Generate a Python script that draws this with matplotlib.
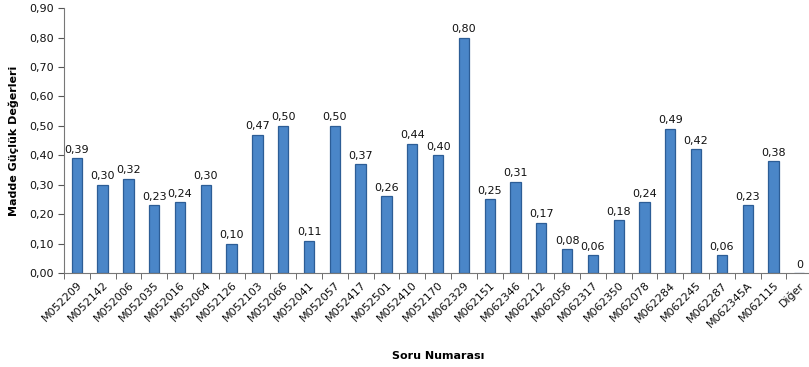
import numpy as np
import matplotlib
matplotlib.use('Agg')
import matplotlib.pyplot as plt

items = ['M052209', 'M052142', 'M052006', 'M052035', 'M052016', 'M052064', 'M052126',
         'M052103', 'M052066', 'M052041', 'M052057', 'M052417', 'M052501', 'M052410',
         'M052170', 'M062329', 'M062151', 'M062346', 'M062212', 'M062056', 'M062317',
         'M062350', 'M062078', 'M062284', 'M062245', 'M062287', 'M062345A', 'M062115',
         'Diğer']
values = [0.39, 0.30, 0.32, 0.23, 0.24, 0.30, 0.10,
          0.47, 0.50, 0.11, 0.50, 0.37, 0.26, 0.44,
          0.40, 0.80, 0.25, 0.31, 0.17, 0.08, 0.06,
          0.18, 0.24, 0.49, 0.42, 0.06, 0.23, 0.38,
          0]

plt.rcParams['font.family'] = ['DejaVu Sans']

fig = plt.figure(figsize=(8.09, 3.67), dpi=100)
ax = fig.add_axes([0.079, 0.256, 0.925, 0.722])

x = np.arange(len(items))
ax.bar(x, values, width=0.4, color='#4a86c8', edgecolor='#2c5d96', linewidth=0.9, zorder=2)

for xi, v in zip(x, values):
    txt = '0' if v == 0 else '{:.2f}'.format(v).replace('.', ',')
    ax.text(xi, v + 0.012, txt, ha='center', va='bottom', fontsize=8, color='#111111')

ax.set_xlim(-0.5, len(items) - 0.5)
ax.set_ylim(0, 0.9)
ax.set_yticks(np.arange(0, 0.91, 0.1))
ax.set_yticklabels(['{:.2f}'.format(t).replace('.', ',') for t in np.arange(0, 0.91, 0.1)],
                   fontsize=8, color='#111111')
ax.set_xticks(x)
ax.set_xticklabels(items, rotation=45, ha='right', rotation_mode='anchor', fontsize=8,
                   color='#111111')
ax.set_xticks(np.arange(-0.5, len(items), 1), minor=True)
ax.tick_params(axis='x', which='major', length=0, pad=5)
ax.tick_params(axis='x', which='minor', length=4, direction='out', color='#555555')
ax.tick_params(axis='y', length=4, direction='out', color='#555555')

for s in ['top', 'right']:
    ax.spines[s].set_visible(False)
ax.spines['left'].set_color('#777777')
ax.spines['bottom'].set_color('#777777')

ax.set_ylabel('Madde Güçlük Değerleri', fontsize=8, fontweight='bold', labelpad=7)
ax.set_xlabel('Soru Numarası', fontsize=8, fontweight='bold', labelpad=16)

fig.savefig('out.png', dpi=100)
